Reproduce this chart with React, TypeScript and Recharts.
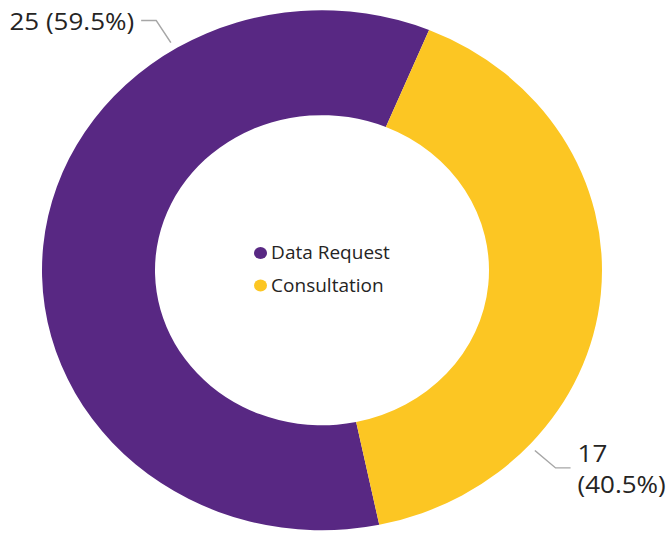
import { PieChart, Pie, Cell, Legend } from 'recharts';

// request types and their counts
const categories = ['Data Request', 'Consultation'];
const counts = [25, 17];

const COLORS = ['#582883', '#FCC623'];
const FONT = "'Segoe UI', 'Open Sans', sans-serif";

// the reference is squashed vertically, so draw round and scale the whole thing
const WIDTH = 672;
const HEIGHT = 575;
const SQUASH = 534 / HEIGHT;

const PIE_CX = 322;
const PIE_CY = 291;

// where Power BI put each detail label, relative to the slice middle (deg)
const LABEL_SHIFT = [-53, -37];

const RADIAN = Math.PI / 180;
const total = counts.reduce((a, b) => a + b, 0);
const chartData = categories.map((name, i) => ({ name, value: counts[i] }));

// eslint-disable-next-line @typescript-eslint/no-explicit-any
function renderLabel(props: any) {
  const { cx, cy, midAngle, outerRadius, index, value } = props;
  const angle = (midAngle + LABEL_SHIFT[index]) * RADIAN;
  const cos = Math.cos(-angle);
  const sin = Math.sin(-angle);
  const x1 = cx + (outerRadius + 8) * cos;
  const y1 = cy + (outerRadius + 8) * sin;
  const x2 = cx + (outerRadius + 36) * cos;
  const y2 = cy + (outerRadius + 36) * sin;
  const right = cos >= 0;
  const x3 = x2 + (right ? 15 : -15);
  const tx = x3 + (right ? 7 : -7);
  const pct = `(${((value / total) * 100).toFixed(1)}%)`;

  return (
    <g>
      <polyline
        points={`${x1},${y1} ${x2},${y2} ${x3},${y2}`}
        fill="none"
        stroke="#A6A6A6"
        strokeWidth={1.5}
      />
      {right ? (
        // not enough room on the right, so Power BI wraps it
        <text x={tx} y={y2} fill="#252423" fontSize={26} fontFamily={FONT} textAnchor="start">
          <tspan x={tx} dy={-17} dominantBaseline="central">
            {value}
          </tspan>
          <tspan x={tx} dy={34} dominantBaseline="central">
            {pct}
          </tspan>
        </text>
      ) : (
        <text
          x={tx}
          y={y2}
          fill="#252423"
          fontSize={26}
          fontFamily={FONT}
          textAnchor="end"
          dominantBaseline="central"
        >
          {`${value} ${pct}`}
        </text>
      )}
    </g>
  );
}

function CenterLegend() {
  return (
    <div style={{ display: 'flex', justifyContent: 'center' }}>
      <div style={{ display: 'flex', flexDirection: 'column' }}>
        {categories.map((name, i) => (
          <div
            key={name}
            style={{ display: 'flex', alignItems: 'center', height: 35, fontFamily: FONT, fontSize: 19, color: '#252423' }}
          >
            <span
              style={{ width: 13, height: 13, borderRadius: '50%', background: COLORS[i], marginRight: 4, display: 'inline-block' }}
            />
            <span>{name}</span>
          </div>
        ))}
      </div>
    </div>
  );
}

export default function App() {
  return (
    <div
      style={{
        position: 'absolute',
        left: 0,
        top: 0,
        width: WIDTH,
        height: HEIGHT,
        background: '#fff',
        transform: `scaleY(${SQUASH})`,
        transformOrigin: '0 0',
      }}
    >
      <PieChart width={WIDTH} height={HEIGHT} margin={{ top: 0, right: 0, bottom: 0, left: 0 }}>
        <Pie
          data={chartData}
          dataKey="value"
          nameKey="name"
          cx={PIE_CX}
          cy={PIE_CY}
          innerRadius={167}
          outerRadius={280}
          startAngle={-78.2}
          endAngle={-438.2}
          stroke="none"
          label={renderLabel}
          labelLine={false}
          isAnimationActive={false}
        >
          {chartData.map((d, i) => (
            <Cell key={d.name} fill={COLORS[i]} />
          ))}
        </Pie>
        <Legend
          layout="vertical"
          align="center"
          verticalAlign="middle"
          content={<CenterLegend />}
          wrapperStyle={{ left: 0, width: PIE_CX * 2 }}
        />
      </PieChart>
    </div>
  );
}
